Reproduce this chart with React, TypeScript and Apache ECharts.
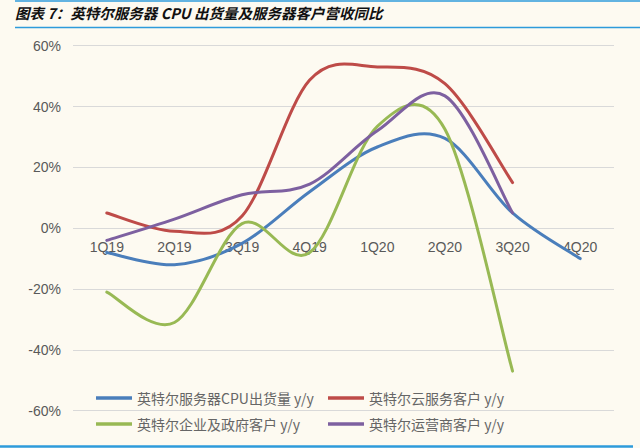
import React, { useEffect, useRef } from "react";
import * as echarts from "echarts";

const categories = ["1Q19", "2Q19", "3Q19", "4Q19", "1Q20", "2Q20", "3Q20", "4Q20"];
const cpuShipments = [-8, -12, -5, 12, 26.7, 29.5, 5, -10];
const cloudRevenue = [5, -1, 4, 48.7, 53, 47.5, 15, null];
const enterpriseRevenue = [-21, -31, 1.5, -8, 33.5, 32.5, -47, null];
const carrierRevenue = [-4, 3, 11, 14.5, 32, 43.5, 5, null];
const seriesNames = [
  "英特尔服务器CPU出货量 y/y",
  "英特尔云服务客户 y/y",
  "英特尔企业及政府客户 y/y",
  "英特尔运营商客户 y/y",
];
const yTicks = { min: -60, max: 60, interval: 20 };
const titleText = "图表 7：英特尔服务器 CPU 出货量及服务器客户营收同比";

function smoothPath(pts: number[][]): string {
  if (pts.length === 0) return "";
  let d = `M${pts[0][0]},${pts[0][1]}`;
  for (let i = 0; i < pts.length - 1; i++) {
    const p0 = pts[i - 1] || pts[i];
    const p1 = pts[i];
    const p2 = pts[i + 1];
    const p3 = pts[i + 2] || pts[i + 1];
    const c1x = p1[0] + (p2[0] - p0[0]) / 6;
    const c1y = p1[1] + (p2[1] - p0[1]) / 6;
    const c2x = p2[0] - (p3[0] - p1[0]) / 6;
    const c2y = p2[1] - (p3[1] - p1[1]) / 6;
    d += ` C${c1x},${c1y} ${c2x},${c2y} ${p2[0]},${p2[1]}`;
  }
  return d;
}

const GRID_TOP = 45.7;
const GRID_BOTTOM = 37.3;
const CHART_H = 448;

export default function App() {
  const ref = useRef<HTMLDivElement>(null);
  useEffect(() => {
    document.body.style.margin = "0";
    if (!ref.current) return;
    const chart = echarts.init(ref.current, null, { renderer: "svg" });
    const colors = ["#4A7EBB", "#BE4B48", "#98B954", "#7D60A0"];
    const dataSets = [cpuShipments, cloudRevenue, enterpriseRevenue, carrierRevenue];
    const legendPos = [
      { left: 96, top: 391 },
      { left: 328, top: 391 },
      { left: 96, top: 417 },
      { left: 328, top: 417 },
    ];
    const textFont = "Liberation Sans, Arial, sans-serif";
    // move the category axis up to the zero line
    const plotH = CHART_H - GRID_TOP - GRID_BOTTOM;
    const zeroOffset = -plotH * ((0 - yTicks.min) / (yTicks.max - yTicks.min));
    chart.setOption({
      animation: false,
      backgroundColor: "#FDFAF1",
      color: colors,
      grid: { left: 73, right: 26, top: GRID_TOP, bottom: GRID_BOTTOM, containLabel: false },
      xAxis: {
        type: "category",
        data: categories,
        boundaryGap: true,
        offset: zeroOffset,
        axisLine: { show: false, onZero: false },
        axisTick: { show: false },
        axisLabel: { color: "#595959", fontSize: 14, fontFamily: textFont, margin: 12 },
      },
      yAxis: {
        type: "value",
        min: yTicks.min,
        max: yTicks.max,
        interval: yTicks.interval,
        axisLine: { show: false },
        axisTick: { show: false },
        splitLine: { lineStyle: { color: "#D9D9D9", width: 1.2 } },
        axisLabel: {
          formatter: "{value}%",
          color: "#595959",
          fontSize: 14,
          fontFamily: textFont,
          margin: 12,
        },
      },
      legend: legendPos.map((p, i) => ({
        data: [seriesNames[i]],
        left: p.left,
        top: p.top,
        icon: "rect",
        itemWidth: 36,
        itemHeight: 3.5,
        itemGap: 0,
        padding: 0,
        textStyle: {
          color: "#666666",
          fontSize: 14,
          fontFamily: "Noto Sans CJK SC, sans-serif",
        },
      })),
      series: dataSets.map((d, i) => {
        const pairs = d
          .map((v, k) => [k, v])
          .filter((p) => p[1] !== null && p[1] !== undefined) as number[][];
        return {
          name: seriesNames[i],
          type: "custom",
          coordinateSystem: "cartesian2d",
          data: pairs,
          encode: { x: 0, y: 1 },
          itemStyle: { color: colors[i] },
          z: 2 + i,
          renderItem: (params: any, api: any) => {
            if (params.dataIndex !== 0) return null;
            const pts = pairs.map((p) => api.coord([p[0], p[1]]));
            return {
              type: "path",
              shape: { pathData: smoothPath(pts) },
              style: {
                stroke: colors[i],
                lineWidth: 3,
                fill: "none",
                lineCap: "round",
                lineJoin: "round",
              },
            };
          },
        };
      }),
      graphic: [
        { type: "line", shape: { x1: 15, y1: 1, x2: 640, y2: 1 }, style: { stroke: "#2E9BDB", lineWidth: 1.5 } },
        { type: "line", shape: { x1: 15, y1: 27.5, x2: 640, y2: 27.5 }, style: { stroke: "#2E9BDB", lineWidth: 1.5 } },
        { type: "line", shape: { x1: 0, y1: 446.5, x2: 633, y2: 446.5 }, style: { stroke: "#2E9BDB", lineWidth: 2.5 } },
        {
          type: "text",
          left: 15,
          top: 5,
          style: {
            text: titleText,
            fill: "#111111",
            font: "italic bold 14.5px 'Noto Sans CJK SC', sans-serif",
          },
        },
      ],
    });
    return () => chart.dispose();
  }, []);
  return <div ref={ref} style={{ width: 640, height: 448 }} />;
}
